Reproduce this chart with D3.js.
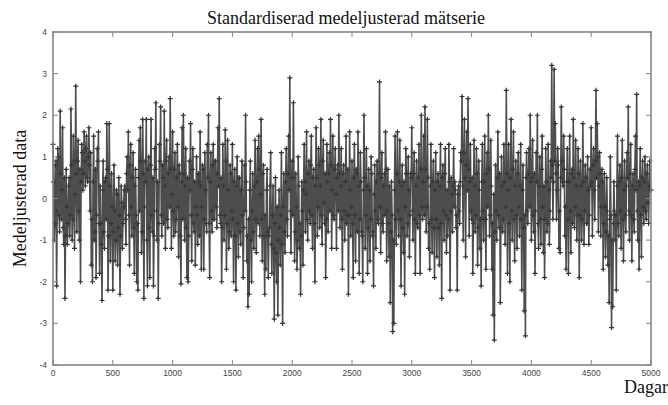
<!DOCTYPE html>
<html>
<head>
<meta charset="utf-8">
<script src="https://cdn.jsdelivr.net/npm/d3@7/dist/d3.min.js"></script>
<style>
  html, body { margin: 0; padding: 0; background: #fff; }
  svg { display: block; }
</style>
</head>
<body>
<svg id="chart" width="668" height="405"></svg>
<script>
// ---- Data ----
const title = "Standardiserad medeljusterad mätserie";
const xLabel = "Dagar";
const yLabel = "Medeljusterad data";
const xTicks = [0, 500, 1000, 1500, 2000, 2500, 3000, 3500, 4000, 4500, 5000];
const yTicks = [-4, -3, -2, -1, 0, 1, 2, 3, 4];
const dayStep = 10;
// readings at days 0, 10, 20, ... (envelope and spikes)
const values = [
  1.3, -1.0, 0.8, -2.1, 1.2, -0.4, 2.1, -0.5, 1.7, -1.1,      // 0
  -2.4, 0.7, -1.1, 0.3, -0.9, 2.15, -1.0, 1.5, -1.2, 2.7,     // 100
  -0.8, 1.4, -1.0, -2.0, 1.3, 0.2, 1.6, 0.3, 1.5, 0.4,        // 200
  1.7, -0.3, -1.6, -2.0, 1.5, -0.8, -1.9, 1.2, 1.6, -1.8,     // 300
  -0.6, -2.45, 0.9, -1.2, 0.5, 1.8, -2.2, 1.8, -1.5, 0.6,     // 400
  -2.2, 0.8, -1.5, 0.2, -1.6, 0.5, -2.3, 0.3, -1.2, -0.2,     // 500
  0.3, -1.1, 1.0, 1.6, -1.6, 1.3, -0.9, 1.1, -1.8, 0.7,       // 600
  -2.0, -2.2, 1.4, 1.7, -1.3, 1.9, -2.4, 0.9, 1.9, -2.1,      // 700
  1.0, -1.9, 1.9, -0.8, -2.1, 1.2, 2.3, -1.0, -2.4, 1.3,      // 800
  2.2, -0.9, 0.5, 2.1, -1.2, 1.4, -0.7, 1.0, 2.4, -1.2,       // 900
  1.6, -0.9, 1.1, -0.5, 1.3, -1.4, 0.6, -2.05, 1.7, 2.0,      // 1000
  -1.0, 1.2, -1.9, -2.0, 0.9, 1.8, -1.5, 1.2, -0.8, -1.6,     // 1100
  1.0, -1.1, 0.4, 1.6, -1.7, 0.8, -1.7, 1.1, -0.6, 1.3,       // 1200
  2.0, -1.9, 1.1, -0.8, 1.3, -0.5, 0.9, -0.7, 1.7, 2.4,       // 1300
  -0.6, -2.0, 1.3, -1.0, 1.65, -1.7, 1.4, -1.2, 0.8, -0.9,    // 1400
  1.3, -2.0, 0.7, -2.2, 1.0, -1.4, 0.5, -1.1, 0.9, -1.9,      // 1500
  0.8, 2.0, -1.5, -2.6, -2.3, 0.9, -2.0, 0.6, -1.2, 1.4,      // 1600
  -1.3, 1.2, 1.5, -0.9, 1.9, -1.5, 0.8, -2.3, -1.7, 0.7,      // 1700
  -1.9, -0.7, 1.1, -1.8, 0.3, -2.9, 0.5, -2.0, -2.8, 0.2,     // 1800
  -1.6, 1.1, -3.0, 0.6, -1.3, 1.2, -0.9, 1.5, 2.9, -1.3,      // 1900
  0.9, 2.3, -1.5, 0.6, -1.7, 1.0, -1.2, -2.3, 0.4, -1.6,      // 2000
  1.3, -0.8, 1.6, -1.0, 0.9, -0.6, 1.5, -1.2, 0.7, -2.0,      // 2100
  1.7, -0.9, 1.2, -0.7, 1.9, -1.1, 1.4, -0.6, -1.9, 1.3,      // 2200
  -0.8, 1.1, 1.9, -1.2, 1.5, -0.5, 1.2, -1.2, 0.8, 2.0,       // 2300
  -0.7, 1.2, -1.7, 0.8, -1.0, 1.5, -0.4, -2.3, 1.6, -0.9,     // 2400
  0.9, -1.9, 1.3, -1.5, 0.6, 1.6, -1.8, 1.1, -0.8, -2.0,      // 2500
  2.0, -1.2, 1.2, -1.8, 0.7, -1.5, 1.0, -0.9, -2.1, 0.8,      // 2600
  -1.2, 0.9, -0.6, 2.8, -1.3, 1.1, -0.8, 0.6, 1.6, -1.5,      // 2700
  0.7, -1.4, -2.5, 0.4, -3.2, -3.0, 1.5, -1.1, 1.6, -0.9,     // 2800
  1.4, -2.1, 0.8, -1.3, -2.3, 1.2, -0.9, 1.0, -1.4, 0.6,      // 2900
  1.7, -1.0, 1.1, -1.8, 0.9, -0.7, 1.3, -1.8, 2.0, -0.5,      // 3000
  1.5, 2.2, -0.8, 1.9, -1.2, -1.7, 1.3, -1.3, 0.9, -1.9,      // 3100
  1.1, -1.4, 0.6, -1.6, 1.3, -2.4, 0.8, -1.0, 1.2, -1.3,      // 3200
  -0.9, 1.3, -2.2, 0.5, -0.8, 1.2, 0.4, -0.7, -2.2, 0.3,      // 3300
  -0.6, 1.1, 2.45, -1.0, 1.9, -1.4, 1.6, 2.4, -0.9, 1.3,      // 3400
  -0.5, -1.8, 1.4, -0.8, 1.2, -1.6, 0.9, -1.2, -2.1, 1.3,     // 3500
  -1.0, 1.5, -1.7, 1.1, 2.0, -0.9, 1.4, -1.7, -2.8, -3.4,     // 3600
  0.8, -1.0, 1.6, -0.7, -2.5, 1.0, -0.8, 1.3, -1.1, 2.6,      // 3700
  -1.8, 1.3, -2.0, 1.9, -1.0, 1.6, -1.5, 0.9, -1.2, 1.1,      // 3800
  -0.9, 1.3, -2.2, 0.8, -2.7, -3.3, 1.1, -0.6, 1.2, 2.0,      // 3900
  -1.0, 1.4, -0.8, -1.8, 1.1, 2.0, -1.2, 1.0, -1.1, 1.5,      // 4000
  -1.3, -1.9, 1.2, -0.8, 1.3, -1.1, 0.9, 3.2, -0.5, 3.1,      // 4100
  1.8, -0.5, 1.2, -1.2, -1.3, 2.2, 0.4, 1.5, -0.9, -1.7,      // 4200
  1.2, -1.8, 1.5, -1.3, 0.7, 1.9, -0.7, 1.4, -1.0, 1.2,       // 4300
  -1.9, 0.9, -1.0, 1.8, -1.1, 0.8, -0.6, 1.0, -1.1, 0.7,      // 4400
  1.7, -0.9, 1.2, -0.5, 2.6, 1.8, -0.8, 1.1, -0.9, 0.7,       // 4500
  -1.7, 0.6, -1.4, 0.5, -1.6, -2.5, 1.0, -3.1, -2.6, 0.4,     // 4600
  -1.0, -2.2, 1.5, -0.9, 0.8, -1.2, 1.4, -1.5, 0.9, -0.8,     // 4700
  1.1, 2.2, -1.0, 1.3, -1.5, 0.6, -0.8, 1.5, 2.5, -1.0,       // 4800
  -1.7, 1.2, -1.4, 0.9, -0.6, 1.0, -0.5, 0.8, -0.6, 0.9,      // 4900
  0.2                                                         // 5000
];
// readings at days 5, 15, 25, ... (dense core of the band)
const midValues = [
  0.4, -0.6, 0.9, -0.3, 1.0, -0.8, 0.6, 0.2, -0.7, 0.5,       // 5
  -0.9, -0.2, -0.6, 0.5, -0.4, 0.8, -0.5, 0.9, 0.1, 0.6,      // 105
  0.9, -0.3, 0.7, 0.4, 1.1, 0.6, 0.9, 1.2, 0.5, 1.0,          // 205
  0.8, 1.1, -0.5, 0.4, -1.0, 0.7, -0.4, 0.9, -0.6, 0.3,       // 305
  -1.1, 0.2, -0.8, 0.4, -0.5, 0.7, -0.9, 0.3, -0.6, -0.2,     // 405
  -0.8, -0.3, -1.0, 0.1, -0.7, -0.4, -0.9, -0.1, -0.6, 0.2,   // 505
  -0.5, 0.6, 0.2, -0.4, 0.8, -0.2, 0.5, -0.7, 0.3, -0.4,      // 605
  -0.6, 0.5, -0.3, 0.9, -0.8, 0.6, -0.2, 0.4, -1.0, 0.7,      // 705
  -0.7, 0.8, -0.4, 0.5, -0.9, 0.7, -0.3, 0.4, -0.6, 0.9,      // 805
  -0.4, 0.8, -0.6, 0.3, 0.9, -0.5, 0.6, -0.2, 0.7, 0.1,       // 905
  -0.3, 0.7, -0.8, 0.5, -0.2, 0.8, -0.9, 0.4, -0.5, 0.6,      // 1005
  0.3, -0.7, 0.5, -0.9, 0.2, -0.4, 0.7, -0.6, 0.4, -0.2,      // 1105
  -0.4, 0.6, -0.9, 0.3, -0.2, 0.7, -0.5, 0.2, -0.8, 0.5,      // 1205
  -0.6, 0.4, -0.3, 0.8, -0.5, 0.9, -0.2, 0.6, 0.3, -0.4,      // 1305
  0.5, -0.7, 0.3, -0.4, 0.9, -0.6, 0.2, -0.8, 0.6, -0.3,      // 1405
  -0.5, 0.4, -0.9, 0.3, -0.6, 0.5, -0.8, 0.2, -0.4, -0.7,     // 1505
  -0.3, 0.4, -0.9, -0.5, 0.2, -1.0, -0.3, -0.8, 0.3, -0.5,    // 1605
  0.4, -0.6, 0.7, 0.1, -0.5, 0.6, -0.9, -0.4, 0.2, -0.8,      // 1705
  -0.9, 0.3, -1.1, -0.4, -1.2, -0.6, -1.3, -0.2, -1.0, -0.7,  // 1805
  -0.4, -1.1, -0.2, -0.8, 0.4, -0.5, 0.6, 0.2, -0.3, 0.5,     // 1905
  -0.4, 0.5, -0.8, -0.2, -1.0, 0.3, -0.6, -0.9, -0.3, 0.2,    // 2005
  0.4, 0.1, -0.5, 0.6, -0.3, 0.8, -0.4, 0.5, -0.6, 0.3,       // 2105
  0.5, -0.2, 0.8, 0.3, -0.4, 0.9, -0.1, 0.6, -0.5, 0.4,       // 2205
  0.6, -0.3, 0.8, 0.2, -0.4, 0.7, 0.1, 0.5, -0.3, 0.6,        // 2305
  0.3, -0.5, 0.6, -0.3, 0.4, -0.6, 0.7, -0.4, 0.2, -0.2,      // 2405
  -0.6, 0.5, -0.4, 0.7, -0.8, 0.3, -0.5, 0.4, -0.9, 0.2,      // 2505
  0.5, -0.4, 0.3, -0.7, 0.2, -0.5, 0.6, -0.8, 0.1, -0.3,      // 2605
  0.4, -0.5, 0.6, -0.2, 0.5, -0.6, 0.3, -0.4, 0.7, -0.3,      // 2705
  -0.6, 0.3, -0.8, -0.4, -1.0, 0.2, -0.5, 0.6, -0.3, 0.4,     // 2805
  -0.5, 0.3, -0.7, 0.4, -0.2, 0.6, -0.6, 0.2, -0.4, 0.5,      // 2905
  -0.3, 0.6, -0.5, 0.3, -0.6, 0.5, -0.4, 0.7, -0.2, 0.4,      // 3005
  -0.4, 0.7, -0.2, 0.5, -0.6, 0.3, -0.5, 0.4, -0.7, 0.2,      // 3105
  -0.5, 0.4, -0.7, 0.3, -0.6, 0.5, -0.3, 0.6, -0.4, 0.2,      // 3205
  -0.5, 0.4, -0.3, 0.1, 0.3, -0.2, 0.2, -0.4, 0.1, -0.3,      // 3305
  0.4, 0.9, 0.3, 1.1, 0.5, 0.8, 0.2, 0.7, 0.4, -0.3,          // 3405
  0.5, -0.6, 0.3, -0.4, 0.6, -0.7, 0.2, -0.5, 0.4, -0.3,      // 3505
  0.4, -0.5, 0.6, -0.2, 0.7, -0.4, 0.3, -0.6, 0.1, -0.8,      // 3605
  -0.3, 0.5, -0.4, 0.6, -0.7, 0.3, -0.5, 0.4, -0.2, 0.6,      // 3705
  0.2, -0.6, 0.5, -0.3, 0.7, -0.5, 0.3, -0.4, 0.6, -0.2,      // 3805
  0.3, -0.5, 0.2, -0.7, -0.4, 0.5, -0.3, 0.6, -0.2, 0.4,      // 3905
  0.5, -0.4, 0.6, -0.3, 0.4, -0.6, 0.3, -0.5, 0.7, -0.2,      // 4005
  0.3, -0.5, 0.4, -0.6, 0.2, -0.3, 0.5, 0.8, 0.4, 0.9,        // 4105
  0.6, 0.2, 0.8, -0.3, 0.5, 0.9, 0.3, 0.7, -0.2, 0.4,         // 4205
  -0.5, 0.4, -0.3, 0.6, -0.6, 0.5, -0.2, 0.3, -0.4, 0.6,      // 4305
  -0.4, 0.3, -0.5, 0.4, -0.3, 0.5, -0.6, 0.2, -0.4, 0.3,      // 4405
  0.4, 0.8, 0.2, 0.9, 0.5, 1.0, 0.3, 0.6, -0.2, 0.4,          // 4505
  -0.6, -0.2, -0.8, -0.3, -0.9, -0.5, -0.4, -1.0, -0.6, -0.3, // 4605
  -0.4, 0.3, -0.6, 0.4, -0.3, 0.5, -0.5, 0.2, -0.4, 0.3,      // 4705
  0.5, -0.3, 0.6, -0.4, 0.3, -0.5, 0.7, 0.2, -0.3, 0.4,       // 4805
  0.3, -0.4, 0.5, -0.2, 0.4, -0.3, 0.6, -0.1, 0.3, 0.2        // 4905
];

// ---- Drawing ----
const svg = d3.select("#chart");
const margin = { left: 53, right: 17, top: 32, bottom: 40 };
const W = 668, H = 405;
const x = d3.scaleLinear().domain([0, 5000]).range([margin.left, W - margin.right]);
const y = d3.scaleLinear().domain([-4, 4]).range([H - margin.bottom, margin.top]);

const data = values.map((v, i) => ({ day: i * dayStep, v }))
  .concat(midValues.map((v, i) => ({ day: i * dayStep + dayStep / 2, v })))
  .sort((a, b) => a.day - b.day);

// series line
const line = d3.line().x(d => x(d.day)).y(d => y(d.v));
svg.append("path")
  .datum(data)
  .attr("fill", "none")
  .attr("stroke", "#4d4d4d")
  .attr("stroke-width", 1.6)
  .attr("stroke-linejoin", "round")
  .attr("d", line);

// '+' markers
const m = 2.5;
svg.append("path")
  .attr("fill", "none")
  .attr("stroke", "#363636")
  .attr("stroke-width", 1.2)
  .attr("d", data.map(d => {
    const px = x(d.day), py = y(d.v);
    return `M${px - m},${py}H${px + m}M${px},${py - m}V${py + m}`;
  }).join(""));

// frame
const axisColor = "#858585";
svg.append("rect")
  .attr("x", x(0)).attr("y", y(4))
  .attr("width", x(5000) - x(0)).attr("height", y(-4) - y(4))
  .attr("fill", "none").attr("stroke", axisColor).attr("stroke-width", 1.6);

const tk = 5;
const tickG = svg.append("g").attr("stroke", axisColor).attr("stroke-width", 1);
xTicks.forEach(t => {
  tickG.append("line").attr("x1", x(t)).attr("x2", x(t)).attr("y1", y(-4)).attr("y2", y(-4) - tk);
  tickG.append("line").attr("x1", x(t)).attr("x2", x(t)).attr("y1", y(4)).attr("y2", y(4) + tk);
});
yTicks.forEach(t => {
  tickG.append("line").attr("x1", x(0)).attr("x2", x(0) + tk).attr("y1", y(t)).attr("y2", y(t));
  tickG.append("line").attr("x1", x(5000)).attr("x2", x(5000) - tk).attr("y1", y(t)).attr("y2", y(t));
});

// tick labels
const tickFont = "'Liberation Sans', Arial, sans-serif";
svg.append("g").selectAll("text").data(xTicks).join("text")
  .attr("x", d => x(d)).attr("y", y(-4) + 11)
  .attr("text-anchor", "middle")
  .attr("font-family", tickFont).attr("font-size", 8.5).attr("fill", "#444")
  .text(d => d);
svg.append("g").selectAll("text").data(yTicks).join("text")
  .attr("x", x(0) - 6).attr("y", d => y(d) + 3)
  .attr("text-anchor", "end")
  .attr("font-family", tickFont).attr("font-size", 8.5).attr("fill", "#444")
  .text(d => d);

// titles
const serif = "'Liberation Serif', 'Times New Roman', serif";
svg.append("text")
  .attr("x", (x(0) + x(5000)) / 2 - 6).attr("y", 24)
  .attr("text-anchor", "middle")
  .attr("font-family", serif).attr("font-size", 18).attr("fill", "#111")
  .text(title);
svg.append("text")
  .attr("x", W).attr("y", 393)
  .attr("text-anchor", "end")
  .attr("font-family", serif).attr("font-size", 18).attr("fill", "#111")
  .text(xLabel);
svg.append("text")
  .attr("transform", `translate(26, ${y(0)}) rotate(-90)`)
  .attr("text-anchor", "middle")
  .attr("font-family", serif).attr("font-size", 18).attr("fill", "#111")
  .text(yLabel);
</script>
</body>
</html>
